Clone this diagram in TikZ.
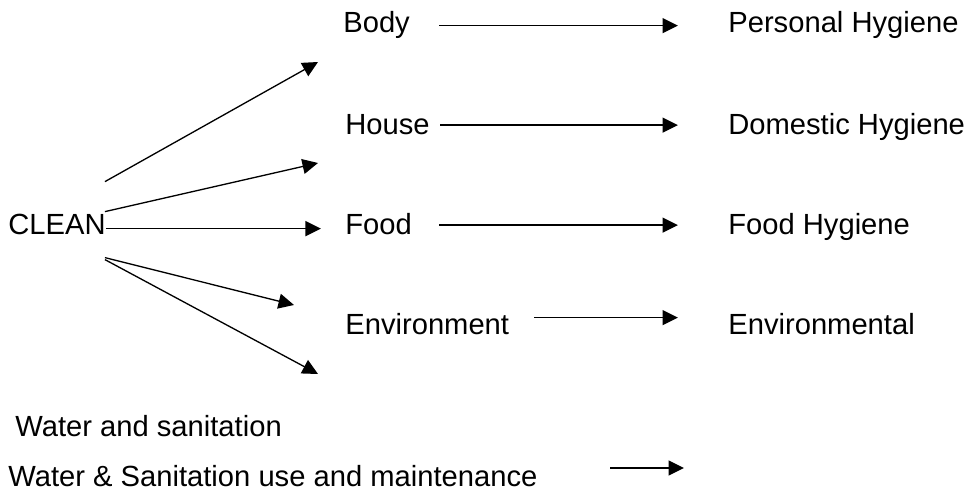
\documentclass[tikz,border=0pt]{standalone}
\usepackage{fontspec}
\setmainfont{Liberation Sans}
\usetikzlibrary{arrows.meta,calc}
\begin{document}
\begin{tikzpicture}[x=0.02cm,y=-0.02cm,
    lbl/.style={anchor=base west,inner sep=0pt,text height=11.9pt,text depth=3.5pt,
      font=\fontsize{16.6pt}{19pt}\selectfont},
    arr/.style={-{Triangle[length=0.31cm,width=0.3cm]},line width=0.75pt}]
  \useasboundingbox (0,0) rectangle (968,493);
  % words
  \node[lbl] (clean) at (8,235) {CLEAN};
  \node[lbl] (body) at (343,33) {Body};
  \node[lbl] (house) at (345,135) {House};
  \node[lbl] (food) at (345,235) {Food};
  \node[lbl] (env) at (345,335) {Environment};
  \node[lbl] (personal) at (728,33) {Personal Hygiene};
  \node[lbl] (domestic) at (728,135) {Domestic Hygiene};
  \node[lbl] (foodhyg) at (728,235) {Food Hygiene};
  \node[lbl] (envhyg) at (728,335) {Environmental};
  \node[lbl] (water) at (15,437) {Water and sanitation};
  \node[lbl] (wateruse) at (8,487) {Water \& Sanitation use and maintenance};
  % fan out of CLEAN
  \coordinate (f1) at (318,62);
  \coordinate (f2) at (318,163);
  \coordinate (f4) at (294,305);
  \coordinate (f5) at (318,374);
  \draw[arr] ($(clean.east)+(-1,-46)$) -- (f1);
  \draw[arr] ($(clean.east)+(-1,-16)$) -- (f2);
  \draw[arr] ($(clean.east)+(0,1)$) -- ++(215,0);
  \draw[arr] ($(clean.east)+(-1,30)$) -- (f4);
  \draw[arr] ($(clean.east)+(-1,32)$) -- (f5);
  % word to hygiene
  \draw[arr] ($(body.east)+(29,0)$) -- ($(personal.west)+(-50,0)$);
  \draw[arr] ($(house.east)+(10,-2.5)$) -- ($(domestic.west)+(-50,-2.5)$);
  \draw[arr] ($(food.east)+(27,-2.5)$) -- ($(foodhyg.west)+(-50,-2.5)$);
  \draw[arr] ($(env.east)+(25,-10)$) -- ($(envhyg.west)+(-50,-10)$);
  \coordinate (u1) at (610,468);
  \coordinate (u2) at (684,468);
  \draw[arr] (u1) -- (u2);
\end{tikzpicture}
\end{document}
